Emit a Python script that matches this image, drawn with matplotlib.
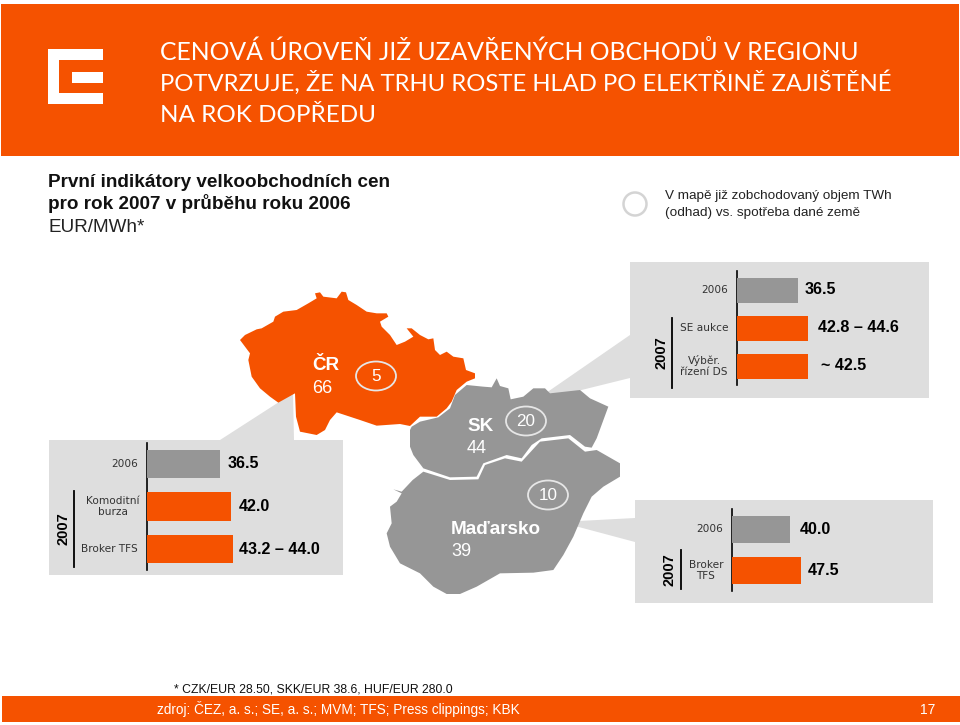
import matplotlib
matplotlib.use("Agg")
import matplotlib.pyplot as plt
from matplotlib.patches import Ellipse, Polygon, Rectangle

ORANGE = "#f55200"
GREY = "#969696"
PANEL = "#dedede"
SANS = "Liberation Sans"

W, H = 960, 725

title_lines = [
    "CENOVÁ ÚROVEŇ JIŽ UZAVŘENÝCH OBCHODŮ V REGIONU",
    "POTVRZUJE, ŽE NA TRHU ROSTE HLAD PO ELEKTŘINĚ ZAJIŠTĚNÉ",
    "NA ROK DOPŘEDU",
]
subtitle_lines = ["První indikátory velkoobchodních cen", "pro rok 2007 v průběhu roku 2006"]
unit_label = "EUR/MWh*"
note_lines = ["V mapě již zobchodovaný objem TWh", "(odhad) vs. spotřeba dané země"]
footnote = "* CZK/EUR 28.50, SKK/EUR 38.6, HUF/EUR 280.0"
source = "zdroj: ČEZ, a. s.; SE, a. s.; MVM; TFS; Press clippings; KBK"
page_no = "17"

# bar panels
sk_labels = ["2006", "SE aukce", "Výběr.\nřízení DS"]
sk_values = [36.5, 42.8, 42.5]
sk_texts = ["36.5", "42.8 – 44.6", "~ 42.5"]

cz_labels = ["2006", "Komoditní\nburza", "Broker TFS"]
cz_values = [36.5, 42.0, 43.2]
cz_texts = ["36.5", "42.0", "43.2 – 44.0"]

hu_labels = ["2006", "Broker\nTFS"]
hu_values = [40.0, 47.5]
hu_texts = ["40.0", "47.5"]

# map shapes, pixels of the 3x crop with origin at (220, 280)
cz_shape = [(60,180),(75,165),(110,148),(125,145),(160,125),(165,110),(190,95),(230,90),(265,70),(290,55),
            (285,40),(300,37),(310,50),(350,55),(365,35),(378,37),(385,60),(410,75),(440,95),(470,100),
            (500,100),(505,110),(480,125),(485,140),(510,165),(530,195),(555,185),(580,170),(560,145),
            (575,145),(600,165),(625,178),(640,175),(645,210),(660,225),(680,215),(700,230),(730,235),
            (738,270),(765,280),(765,295),(740,305),(710,330),(695,365),(680,385),(650,410),(600,410),
            (570,438),(540,432),(470,437),(420,420),(350,397),(330,420),(315,450),(290,465),(240,455),
            (228,410),(225,340),(175,368),(150,350),(120,325),(95,290),(85,240),(90,220)]
sk_shape = [(570,450),(575,440),(600,425),(655,412),(690,385),(705,345),(740,315),(770,318),(790,320),
            (815,322),(830,295),(840,318),(865,325),(872,358),(910,350),(940,325),(975,325),(990,340),
            (1080,330),(1110,355),(1165,380),(1130,475),(1115,503),(1095,500),(1050,465),(965,475),
            (935,495),(905,535),(860,525),(790,550),(770,590),(690,592),(610,565),(580,525),(570,500)]
hu_shape = [(610,575),(690,600),(775,598),(795,555),(855,535),(905,545),(960,485),(1045,475),(1095,515),
            (1130,510),(1200,550),(1200,590),(1150,620),(1115,650),(1090,700),(1060,770),(1030,825),
            (1000,870),(940,878),(840,880),(770,920),(720,942),(680,942),(640,920),(600,880),(540,850),
            (510,800),(500,760),(515,730),(510,680),(530,665),(545,640),(520,628),(545,635),(578,600)]


def crop_to_px(points):
    return [(220 + x / 3, 280 + y / 3) for x, y in points]


def bar_panel(fig, page, box, ax_x, px_per_unit, labels, values, texts, centers, bar_h, colors,
              axis_span, bracket, year_x, gaps, wrap_offset):
    x0, y0, x1, y1 = box
    page.add_patch(Rectangle((x0, y0), x1 - x0, y1 - y0, fc=PANEL, ec="none", zorder=1))

    # bars go in their own axes so the widths come from the data
    ax = fig.add_axes([ax_x / W, 1 - y1 / H, (x1 - ax_x) / W, (y1 - y0) / H])
    ax.patch.set_visible(False)
    ax.axis("off")
    ax.set_xlim(0, (x1 - ax_x) / px_per_unit)
    ax.set_ylim(y1, y0)
    ax.barh(centers, values, height=bar_h, color=colors)
    for c, v, t, gap in zip(centers, values, texts, gaps):
        ax.annotate(t, (v, c), xytext=(gap, 0), textcoords="offset pixels", va="center", ha="left",
                    fontsize=11.6, fontweight="bold", family=SANS)

    page.plot([ax_x, ax_x], axis_span, color="black", lw=1.2, zorder=3)
    page.plot([bracket[0], bracket[0]], bracket[1:], color="black", lw=1.3, zorder=3)
    page.text(year_x, (bracket[1] + bracket[2]) / 2, "2007", rotation=90, ha="center", va="center",
              fontsize=10.5, fontweight="bold", family=SANS, zorder=3)
    for c, lab in zip(centers, labels):
        if "\n" in lab:
            page.text(ax_x - wrap_offset, c, lab, ha="center", va="center", fontsize=7.6,
                      family="DejaVu Sans", color="#333333", linespacing=1.2, zorder=3)
        else:
            page.text(ax_x - 9, c, lab, ha="right", va="center", fontsize=7.6,
                      family="DejaVu Sans", color="#333333", zorder=3)


fig = plt.figure(figsize=(W / 100, H / 100), dpi=100, facecolor="white")
page = fig.add_axes([0, 0, 1, 1])
page.set_xlim(0, W)
page.set_ylim(H, 0)
page.axis("off")

# header
page.add_patch(Rectangle((1, 4), 958, 152, fc=ORANGE, ec="none"))
page.add_patch(Rectangle((48, 49), 55, 55, fc="white", ec="none"))
page.add_patch(Rectangle((59, 60), 44, 33, fc=ORANGE, ec="none"))
page.add_patch(Rectangle((72, 72), 31, 11, fc="white", ec="none"))
for y, size, line in zip([60, 91, 122], [17.8, 17.2, 17.45], title_lines):
    page.text(160, y, line, color="white", fontsize=size, family="Lato", ha="left", va="baseline")

# sub heading
for y, line in zip([187, 209], subtitle_lines):
    page.text(48, y, line, fontsize=13.6, fontweight="bold", family=SANS, color="#111111")
page.text(48, 232, unit_label, fontsize=13.6, family=SANS, color="#222222")

page.add_patch(Ellipse((635, 204), 23, 23, fc="white", ec="#d4d4d4", lw=1.8))
for y, line in zip([199, 216], note_lines):
    page.text(665, y, line, fontsize=9.7, family=SANS, color="#222222")

# pointers between the map and the panels
page.add_patch(Polygon([(533, 402), (630, 335), (630, 378)], fc=PANEL, ec="none", zorder=1))
page.add_patch(Polygon([(293, 393), (220, 440), (294, 440)], fc=PANEL, ec="none", zorder=1))
page.add_patch(Polygon([(560, 522), (635, 518), (635, 542)], fc=PANEL, ec="none", zorder=1))

# panels
bar_panel(fig, page, (630, 262, 929, 398), 737, 1.67, sk_labels, sk_values, sk_texts,
          [290, 328, 366], 25, [GREY, ORANGE, ORANGE], (271, 385), (672, 318, 388), 662,
          [7, 10, 13], 33)
bar_panel(fig, page, (49, 440, 343, 575), 147, 2.0, cz_labels, cz_values, cz_texts,
          [464, 506.5, 549], 28.5, [GREY, ORANGE, ORANGE], (443, 570), (74, 491, 567), 63,
          [8, 8, 6], 34)
bar_panel(fig, page, (635, 500, 933, 603), 732, 1.45, hu_labels, hu_values, hu_texts,
          [529.5, 570.5], 27, [GREY, ORANGE], (509, 591), (681, 550, 589), 669,
          [10, 7], 26)

# map
page.add_patch(Polygon(crop_to_px(hu_shape), fc=GREY, ec="none", zorder=4))
page.add_patch(Polygon(crop_to_px(sk_shape), fc=GREY, ec="none", zorder=4))
page.add_patch(Polygon(crop_to_px(cz_shape), fc=ORANGE, ec="none", zorder=4))
for xy, num in zip([(376, 376), (526, 421), (548, 495)], ["5", "20", "10"]):
    page.add_patch(Ellipse(xy, 40, 29, fc="none", ec="#e6e6e6", lw=1.3, zorder=5))
    page.text(xy[0], xy[1], num, color="white", fontsize=12.3, family=SANS, ha="center", va="center", zorder=6)
for x, y, name, num, num_y in [(312, 370, "ČR", "66", 393), (467, 431, "SK", "44", 453), (451, 534, "Maďarsko", "39", 556)]:
    page.text(x, y, name, color="white", fontsize=13.6, fontweight="bold", family=SANS, zorder=6)
    page.text(x, num_y, num, color="white", fontsize=13, family=SANS, zorder=6)

# footer
page.text(174, 692, footnote, fontsize=8.8, family=SANS, color="#111111")
page.add_patch(Rectangle((1.5, 695.5), W, 26.5, fc=ORANGE, ec="none"))
page.text(157, 714, source, fontsize=9.8, family=SANS, color="white")
page.text(928, 714, page_no, fontsize=10, family=SANS, color="white", ha="center")

fig.savefig("out.png", dpi=100)
